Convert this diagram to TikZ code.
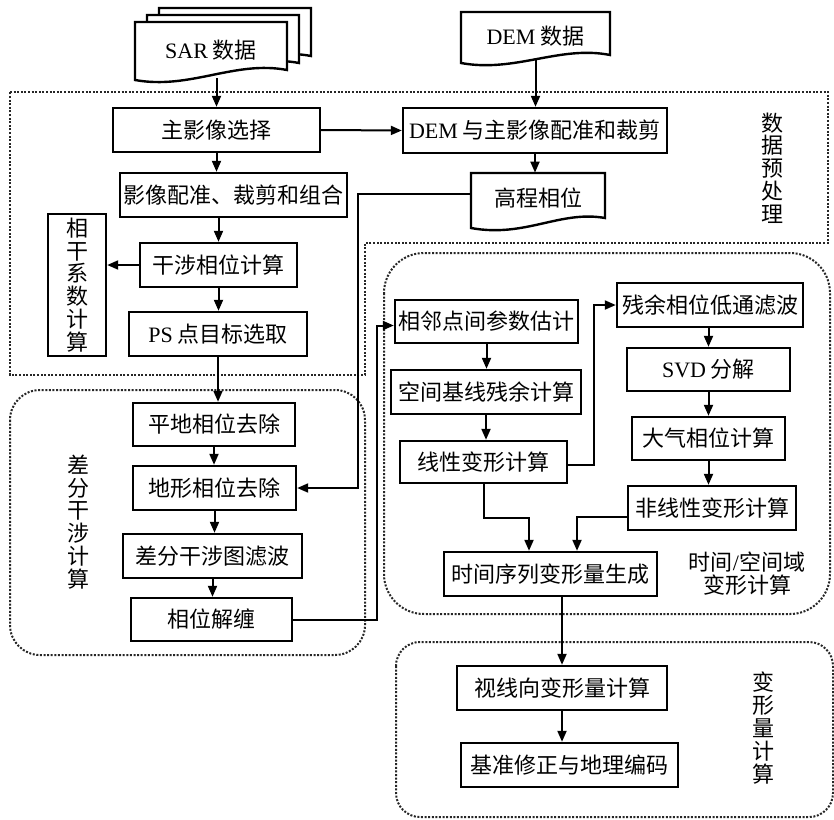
\documentclass[tikz,border=0pt]{standalone}
\usepackage{fontspec}
\setmainfont{Liberation Serif}
\newfontfamily\cjk{Noto Sans CJK SC}
\newfontfamily\lat{Liberation Serif}
\usetikzlibrary{arrows.meta,calc}

\begin{document}
\begin{tikzpicture}[x=0.5pt,y=-0.5pt]
            \tikzstyle{every node}+=[inner sep=0pt]
            \tikzstyle{txt}=[font=\cjk\fontsize{11}{11.4}\selectfont,align=center]
            \tikzstyle{box}=[txt,draw,line width=1.2pt,minimum height=22pt]
            \tikzstyle{arr}=[line width=1pt,-{Triangle[length=5.5pt,width=4.5pt]}]
            \tikzstyle{region}=[line width=1pt,dash pattern=on 1pt off 0.8pt,black!85]
            \useasboundingbox (0,0) rectangle (834,819);
            \draw [region] (10,92) -- (828,92) -- (828,243) -- (365,243) -- (365,375) -- (10,375) -- cycle;
            \draw [region,rounded corners=15pt] (10,390) rectangle (365,655);
            \draw [region,rounded corners=20pt] (384,253) rectangle (830,614);
            \draw [region,rounded corners=12pt] (396,642) rectangle (833,817);
            \foreach \d in {2,1,0}
                \draw [line width=1.2pt,fill=white,shift={(12*\d,-7*\d)}] (135,22) -- (135,80) .. controls (190,90) and (235,60) .. (287,70) -- (287,22) -- cycle;
            \draw [line width=1.2pt] (461,12) -- (461,63) .. controls (515,73) and (560,45) .. (610,55) -- (610,12) -- cycle;
            \draw [line width=1.2pt] (471,173) -- (471,228) .. controls (525,238) and (560,210) .. (605,218) -- (605,173) -- cycle;
            \node [txt,minimum width=76pt,minimum height=28pt] (sar) at (211,50) {{\lat SAR} 数据};
            \node [txt,minimum width=74.5pt,minimum height=24pt] (dem) at (535.5,36) {{\lat DEM} 数据};
            \node [txt,minimum width=67pt,minimum height=25pt] (gc) at (538,198) {高程相位};
            \node [box,minimum width=103.5pt] (zxxz) at (216.5,130) {主影像选择};
            \node [box,minimum width=132pt,minimum height=22.5pt] (dem2) at (535,130.5) {{\lat DEM} 与主影像配准和裁剪};
            \node [box,minimum width=113.5pt] (pz) at (233.5,195) {影像配准、裁剪和组合};
            \node [box,minimum width=78.5pt] (gs) at (218.5,265) {干涉相位计算};
            \node [box,minimum width=29pt,minimum height=71pt] (xg) at (77,285) {相\\干\\系\\数\\计\\算};
            \node [box,minimum width=89pt] (ps) at (218,334) {{\lat PS} 点目标选取};
            \node [box,minimum width=81pt,minimum height=21.5pt] (pd) at (214,424.5) {平地相位去除};
            \node [box,minimum width=81.5pt] (dx) at (214.5,488) {地形相位去除};
            \node [box,minimum width=89.5pt] (lb) at (212.5,556) {差分干涉图滤波};
            \node [box,minimum width=80.5pt,minimum height=21.5pt] (jc) at (211.5,619.5) {相位解缠};
            \node [box,minimum width=91.5pt,minimum height=21.5pt] (lj) at (486.5,321.5) {相邻点间参数估计};
            \node [box,minimum width=95pt] (kj) at (486,392) {空间基线残余计算};
            \node [box,minimum width=83.5pt,minimum height=21pt] (xx) at (483.5,462) {线性变形计算};
            \node [box,minimum width=93pt] (cy) at (710,305) {残余相位低通滤波};
            \node [box,minimum width=81.5pt,minimum height=21.5pt] (svd) at (708.5,369.5) {{\lat SVD} 分解};
            \node [box,minimum width=76.5pt,minimum height=21.5pt] (dq) at (708.5,438.5) {大气相位计算};
            \node [box,minimum width=84pt] (fx) at (712,508) {非线性变形计算};
            \node [box,minimum width=106.5pt] (sj) at (550.5,574) {时间序列变形量生成};
            \node [box,minimum width=105pt] (sx) at (562,688) {视线向变形量计算};
            \node [box,minimum width=108.5pt] (jz) at (569.5,765) {基准修正与地理编码};
            \node [txt] (ysl) at (772,168) {数\\据\\预\\处\\理};
            \node [txt] (cfl) at (78,522) {差\\分\\干\\涉\\计\\算};
            \node [txt] (sjl) at (747,574) {时间{\lat /}空间域\\变形计算};
            \node [txt] (bxl) at (763,728) {变\\形\\量\\计\\算};
            \draw [arr] (sar.south -| zxxz.north) -- (zxxz.north);
            \draw [arr] (dem.south) -- (dem.south |- dem2.north);
            \draw [arr] (zxxz.east) -- (dem2.west);
            \draw [arr] (dem2.south) -- (dem2.south |- gc.north);
            \draw [arr] (zxxz.south) -- (zxxz.south |- pz.north);
            \draw [arr] (gs.north |- pz.south) -- (gs.north);
            \draw [arr] (gs.west) -- (gs.west -| xg.east);
            \draw [arr] (gs.south) -- (gs.south |- ps.north);
            \draw [arr] (ps.south) -- (ps.south |- pd.north);
            \draw [arr] (pd.south) -- (pd.south |- dx.north);
            \draw [arr] (dx.south) -- (dx.south |- lb.north);
            \draw [arr] (lb.south) -- (lb.south |- jc.north);
            \draw [arr] ([yshift=2pt]gc.west) -- ++(-113,0) |- (dx.east);
            \draw [arr] (jc.east) -- ++(84,0) |- ([yshift=-2pt]lj.west);
            \draw [arr] (lj.south) -- (lj.south |- kj.north);
            \draw [arr] (kj.south) -- (kj.south |- xx.north);
            \draw [arr] ([yshift=-1.5pt]xx.east) -- ++(26,0) |- (cy.west);
            \draw [arr] (svd.north |- cy.south) -- (svd.north);
            \draw [arr] (svd.south) -- (svd.south |- dq.north);
            \draw [arr] (dq.south) -- (dq.south |- fx.north);
            \draw [arr] (xx.south) -- ++(0,34) -| ([xshift=-10.75pt]sj.north);
            \draw [arr] ([yshift=-4.5pt]fx.west) -| ([xshift=13.25pt]sj.north);
            \draw [arr] (sx.north |- sj.south) -- (sx.north);
            \draw [arr] (sx.south) -- (sx.south |- jz.north);
        \end{tikzpicture}
\end{document}
